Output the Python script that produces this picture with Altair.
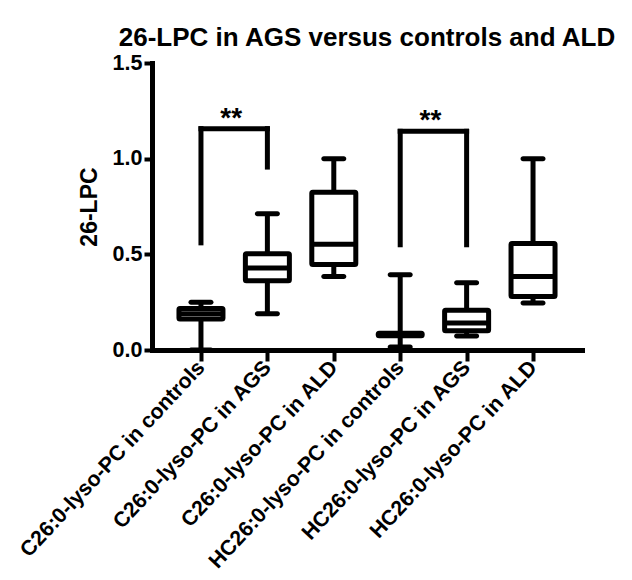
import altair as alt
import pandas as pd

categories = [
    "C26:0-lyso-PC in controls",
    "C26:0-lyso-PC in AGS",
    "C26:0-lyso-PC in ALD",
    "HC26:0-lyso-PC in controls",
    "HC26:0-lyso-PC in AGS",
    "HC26:0-lyso-PC in ALD",
]
q_min = [0.0, 0.19, 0.384, 0.016, 0.073, 0.245]
q1 = [0.162, 0.362, 0.447, 0.074, 0.101, 0.280]
median = [0.190, 0.428, 0.553, 0.080, 0.141, 0.384]
q3 = [0.217, 0.503, 0.825, 0.088, 0.208, 0.556]
q_max = [0.249, 0.712, 1.0, 0.393, 0.352, 1.0]

sig_from = [0, 3]
sig_to = [1, 4]
sig_top = [1.157, 1.143]
sig_left_bottom = [0.56, 0.55]
sig_right_bottom = [0.956, 0.55]
sig_label = ["**", "**"]

y_ticks = [0.0, 0.5, 1.0, 1.5]

FONT = "Liberation Sans"

boxes = pd.DataFrame({
    "idx": list(range(len(categories))),
    "cat": categories,
    "min": q_min, "q1": q1, "median": median, "q3": q3, "max": q_max,
})
sig = pd.DataFrame({
    "from": sig_from, "to": sig_to, "top": sig_top,
    "lb": sig_left_bottom, "rb": sig_right_bottom, "label": sig_label,
})
sig["mid"] = (sig["from"] + sig["to"]) / 2

label_expr = "[" + ",".join("'" + c + "'" for c in categories) + "][datum.value]"

xscale = alt.Scale(domain=[-0.662, 5.662], nice=False, zero=False)
yscale = alt.Scale(domain=[0, 1.5], nice=False)

x_enc = alt.X(
    "idx:Q", scale=xscale,
    axis=alt.Axis(
        title=None, values=list(range(len(categories))), labelExpr=label_expr,
        labelAngle=-47, labelAlign="right", labelBaseline="middle",
        tickSize=11, labelPadding=3, grid=False, zindex=1,
        labelLimit=400, labelOverlap=False, labelFlush=False,
        labelFontSize=21.3,
    ),
)
y_enc = alt.Y(
    "min:Q", scale=yscale,
    axis=alt.Axis(
        title="26-LPC", values=y_ticks, format=".1f", tickSize=8,
        labelPadding=2, grid=False, titleFontSize=23, titlePadding=11,
        titleFont=FONT, titleFontWeight="bold", titleColor="black",
        labelOverlap=False, labelFlush=False, labelFontSize=21.5,
    ),
)

base = alt.Chart(boxes)

whisker = base.mark_rule(color="black", strokeWidth=5).encode(
    x=x_enc, y=y_enc, y2="max:Q"
)
cap_lo = base.mark_tick(color="black", size=25, thickness=5, cornerRadius=2.5,
                        opacity=1, orient="horizontal").encode(
    x="idx:Q", y="min:Q"
)
cap_hi = base.mark_tick(color="black", size=25, thickness=5, cornerRadius=2.5,
                        opacity=1, orient="horizontal").encode(
    x="idx:Q", y="max:Q"
)
box = base.mark_bar(size=44, fill="white", stroke="black", strokeWidth=5,
                    strokeJoin="round", cornerRadius=1).encode(
    x="idx:Q", y="q1:Q", y2="q3:Q"
)
med = base.mark_tick(color="black", size=44, thickness=5, opacity=1,
                     orient="horizontal").encode(
    x="idx:Q", y="median:Q"
)

sbase = alt.Chart(sig)
leg_l = sbase.mark_rule(color="black", strokeWidth=5, strokeCap="square").encode(
    x="from:Q", y="lb:Q", y2="top:Q"
)
leg_r = sbase.mark_rule(color="black", strokeWidth=5, strokeCap="square").encode(
    x="to:Q", y="rb:Q", y2="top:Q"
)
bar_h = sbase.mark_rule(color="black", strokeWidth=5, strokeCap="square").encode(
    x="from:Q", x2="to:Q", y="top:Q"
)
stars = sbase.mark_text(font=FONT, fontSize=28, fontWeight="bold", color="black",
                        baseline="alphabetic", dy=-2, dx=-3).encode(
    x="mid:Q", y="top:Q", text="label:N"
)

chart = alt.layer(
    whisker, cap_lo, cap_hi, box, med, leg_l, leg_r, bar_h, stars
).properties(
    width=430,
    height=287,
    autosize=alt.AutoSizeParams(type="none"),
    padding={"left": 144, "top": 55, "right": 42, "bottom": 225},
    title=alt.TitleParams(
        "26-LPC in AGS versus controls and ALD",
        font=FONT, fontSize=26, fontWeight="bold", color="black",
        anchor="middle", offset=1,
    ),
).configure_view(stroke=None).configure_axis(
    domainColor="black", domainWidth=5, domainCap="square",
    tickColor="black", tickWidth=4,
    labelFont=FONT, labelFontSize=20, labelFontWeight="bold", labelColor="black",
)

chart.save("out.html", embed_options={"renderer": "svg", "actions": False})
